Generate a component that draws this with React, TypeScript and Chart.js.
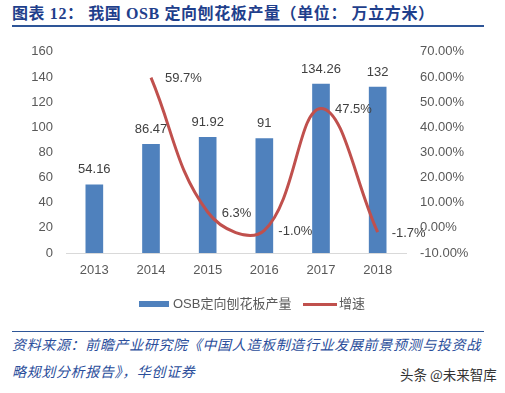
import React, { useEffect, useRef } from "react";
import { Chart, registerables } from "chart.js";

Chart.register(...registerables);

const categories = ["2013", "2014", "2015", "2016", "2017", "2018"];
const production = [54.16, 86.47, 91.92, 91, 134.26, 132];
const growth = [null, 59.7, 6.3, -1.0, 47.5, -1.7];
const growthLabels = ["", "59.7%", "6.3%", "-1.0%", "47.5%", "-1.7%"];
const productionLabels = ["54.16", "86.47", "91.92", "91", "134.26", "132"];

const BLUE = "#4F81BD";
const RED = "#C0504D";
const FONT = "'Liberation Sans', Arial, 'Noto Sans CJK SC', sans-serif";

const labelPlugin = {
  id: "valueLabels",
  afterDatasetsDraw(chart: any) {
    const ctx = chart.ctx;
    ctx.save();
    ctx.font = `13px ${FONT}`;
    ctx.fillStyle = "#404040";
    const bars = chart.getDatasetMeta(0).data;
    ctx.textAlign = "center";
    ctx.textBaseline = "middle";
    bars.forEach((b: any, i: number) => {
      ctx.fillText(productionLabels[i], b.x, b.y - 15);
    });
    const pts = chart.getDatasetMeta(1).data;
    ctx.textAlign = "left";
    pts.forEach((p: any, i: number) => {
      if (!growthLabels[i]) return;
      ctx.fillText(growthLabels[i], p.x + 14, p.y + 1);
    });
    ctx.restore();
  },
};

function ChartView() {
  const ref = useRef<HTMLCanvasElement>(null);
  useEffect(() => {
    if (!ref.current) return;
    const chart = new Chart(ref.current, {
      data: {
        labels: categories,
        datasets: [
          {
            type: "bar",
            label: "OSB定向刨花板产量",
            data: production,
            backgroundColor: BLUE,
            barThickness: 17,
            yAxisID: "y",
            order: 2,
          },
          {
            type: "line",
            label: "增速",
            data: growth as any,
            borderColor: RED,
            backgroundColor: RED,
            borderWidth: 3,
            pointRadius: 0,
            tension: 0.4,
            cubicInterpolationMode: "default",
            yAxisID: "y1",
            order: 1,
          },
        ],
      } as any,
      options: {
        responsive: false,
        animation: false,
        layout: { padding: { top: 19, left: 0, right: 0, bottom: 0 } },
        plugins: {
          legend: { display: false },
          tooltip: { enabled: false },
        },
        elements: { line: { capBezierPoints: false } },
        scales: {
          x: {
            grid: { display: false, drawTicks: false },
            border: { color: "#D9D9D9", width: 1 },
            ticks: { color: "#595959", font: { size: 13, family: FONT }, padding: 10 },
            afterFit: (s: any) => {
              s.height = 67;
            },
          },
          y: {
            position: "left",
            min: 0,
            max: 160,
            grid: { display: false, drawTicks: false },
            border: { display: false },
            ticks: { stepSize: 20, color: "#595959", font: { size: 13, family: FONT }, padding: 13 },
            afterFit: (s: any) => {
              s.width = 66;
            },
          },
          y1: {
            position: "right",
            min: -10,
            max: 70,
            grid: { display: false, drawTicks: false },
            border: { display: false },
            ticks: {
              stepSize: 10,
              color: "#595959",
              font: { size: 13, family: FONT },
              padding: 14,
              callback: (v: any) => Number(v).toFixed(2) + "%",
            },
            afterFit: (s: any) => {
              s.width = 99;
            },
          },
        },
      } as any,
      plugins: [labelPlugin],
    });
    return () => chart.destroy();
  }, []);
  return <canvas ref={ref} width={505} height={290} style={{ display: "block", width: 505, height: 290 }} />;
}

export default function App() {
  const titleColor = "#1F3F8C";
  const footColor = "#2B4E9B";
  return (
    <div style={{ position: "absolute", left: 0, top: 0, width: 505, height: 393, background: "#fff", overflow: "hidden" }}>
      <div
        style={{
          position: "absolute",
          left: 12,
          top: 4,
          fontSize: 16,
          fontWeight: "bold",
          color: titleColor,
          fontFamily: "'Liberation Serif', 'Noto Sans CJK SC', serif",
          whiteSpace: "nowrap",
          lineHeight: "20px",
          letterSpacing: "0.6px",
        }}
      >
        图表 12： 我国 OSB 定向刨花板产量（单位： 万立方米）
      </div>
      <div style={{ position: "absolute", left: 12, top: 25, width: 472, height: 2, background: "#2E5597" }} />
      <div style={{ position: "absolute", left: 0, top: 30 }}>
        <ChartView />
      </div>
      <div style={{ position: "absolute", left: 139, top: 301, width: 30, height: 6, background: BLUE }} />
      <div
        style={{
          position: "absolute",
          left: 173,
          top: 296,
          fontSize: 13,
          color: "#595959",
          fontFamily: FONT,
          lineHeight: "16px",
          whiteSpace: "nowrap",
        }}
      >
        OSB定向刨花板产量
      </div>
      <div style={{ position: "absolute", left: 303, top: 303, width: 34, height: 3, background: RED }} />
      <div
        style={{
          position: "absolute",
          left: 339,
          top: 296,
          fontSize: 13,
          color: "#595959",
          fontFamily: FONT,
          lineHeight: "16px",
          whiteSpace: "nowrap",
        }}
      >
        增速
      </div>
      <div style={{ position: "absolute", left: 12, top: 331, width: 472, height: 1, background: "#2E5597" }} />
      <div
        style={{
          position: "absolute",
          left: 12,
          top: 332,
          width: 490,
          fontSize: 14,
          fontStyle: "italic",
          color: footColor,
          fontFamily: "'Liberation Serif', 'Noto Sans CJK SC', serif",
          lineHeight: "27px",
          letterSpacing: "0.65px",
        }}
      >
        <div style={{ whiteSpace: "nowrap" }}>资料来源：前瞻产业研究院《中国人造板制造行业发展前景预测与投资战</div>
        <div style={{ whiteSpace: "nowrap" }}>略规划分析报告》，华创证券</div>
      </div>
      <div
        style={{
          position: "absolute",
          left: 400,
          top: 365,
          fontSize: 13.5,
          color: "#333333",
          fontFamily: "'Noto Sans CJK SC', sans-serif",
          lineHeight: "18px",
          whiteSpace: "nowrap",
        }}
      >
        头条 @未来智库
      </div>
    </div>
  );
}
